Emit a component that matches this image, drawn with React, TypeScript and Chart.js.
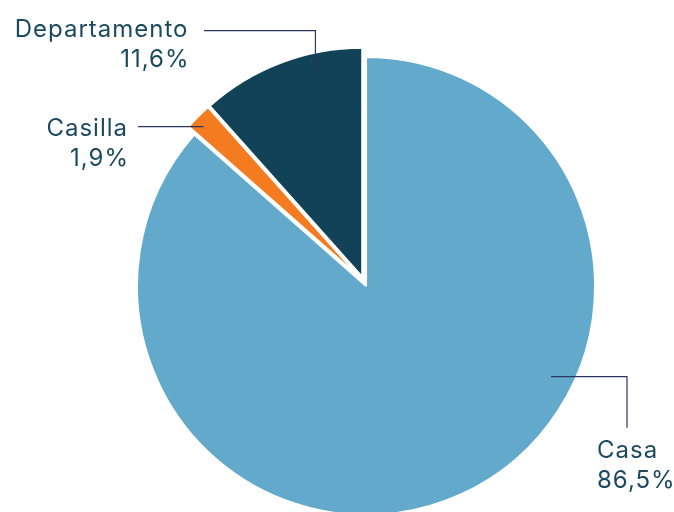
import React, { useEffect, useRef } from "react";
import { Chart, registerables } from "chart.js";

Chart.register(...registerables);

const categories = ["Casa", "Casilla", "Departamento"];
const values = [86.5, 1.9, 11.6];
const valueLabels = ["86,5%", "1,9%", "11,6%"];
const colors = ["#63a9cb", "#f47b20", "#114257"];

const SLICE_SHIFT = 5;
const TEXT_COLOR = "#1b4a5f";
const LINE_COLOR = "#2b365e";
const FONT = "24px Inter, 'Noto Sans', sans-serif";

// leader layout: anchor in polar coords relative to slice centre (angle clockwise from top, deg)
const leaderLayout = [
  { angle: 116.1, r: 206, elbow: [627, 375.7], end: [627, 427.7], text: [597, 457.5], align: "left" },
  { angle: 314, r: 218, elbow: null, end: [138, 125], text: [127, 135.7], align: "right" },
  { angle: 347, r: 208, elbow: [316, 30.7], end: [204, 30.7], text: [187.5, 36.7], align: "right" },
];

const explodePlugin = {
  id: "explode",
  beforeDatasetDraw(chart: any, args: any) {
    const ctx = chart.ctx;
    args.meta.data.forEach((arc: any) => {
      const mid = (arc.startAngle + arc.endAngle) / 2;
      ctx.save();
      ctx.translate(Math.cos(mid) * SLICE_SHIFT, Math.sin(mid) * SLICE_SHIFT);
      arc.draw(ctx);
      ctx.restore();
    });
    return false;
  },
};

const labelPlugin = {
  id: "leaderLabels",
  afterDraw(chart: any) {
    const ctx = chart.ctx;
    const meta = chart.getDatasetMeta(0);
    ctx.save();
    meta.data.forEach((arc: any, i: number) => {
      const mid = (arc.startAngle + arc.endAngle) / 2;
      const cx = arc.x + Math.cos(mid) * SLICE_SHIFT;
      const cy = arc.y + Math.sin(mid) * SLICE_SHIFT;
      const L = leaderLayout[i];
      const a = (L.angle * Math.PI) / 180 - Math.PI / 2;
      const ax = cx + Math.cos(a) * L.r;
      const ay = cy + Math.sin(a) * L.r;
      ctx.strokeStyle = LINE_COLOR;
      ctx.lineWidth = 1.2;
      ctx.beginPath();
      if (L.elbow) {
        if (L.align === "left") {
          ctx.moveTo(ax, ay);
          ctx.lineTo(L.elbow[0], ay);
          ctx.lineTo(L.end[0], L.end[1]);
        } else {
          ctx.moveTo(ax, ay);
          ctx.lineTo(ax, L.elbow[1]);
          ctx.lineTo(L.end[0], L.end[1]);
        }
      } else {
        ctx.moveTo(ax, ay);
        ctx.lineTo(L.end[0], ay);
      }
      ctx.stroke();
      ctx.fillStyle = TEXT_COLOR;
      ctx.font = FONT;
      try {
        (ctx as any).letterSpacing = "1px";
      } catch (e) {}
      ctx.textAlign = L.align as CanvasTextAlign;
      ctx.textBaseline = "alphabetic";
      const sx = L.align === "right" ? 1 : 0;
      ctx.fillText(categories[i], L.text[0] + sx, L.text[1]);
      ctx.fillText(valueLabels[i], L.text[0] + sx + (L.align === "right" ? 1 : 0), L.text[1] + 30);
    });
    ctx.restore();
  },
};

export default function App() {
  const ref = useRef<HTMLCanvasElement>(null);
  useEffect(() => {
    if (!ref.current) return;
    const chart = new Chart(ref.current, {
      type: "pie",
      data: {
        labels: categories,
        datasets: [
          {
            data: values,
            backgroundColor: colors,
            borderColor: "#ffffff",
            borderWidth: 2,
            offset: 0,
          },
        ],
      },
      options: {
        animation: false,
        responsive: false,
        devicePixelRatio: 1,
        radius: 229,
        layout: { padding: { left: 54, right: 0, top: 51, bottom: 0 } },
        plugins: { legend: { display: false }, tooltip: { enabled: false } },
      },
      plugins: [explodePlugin, labelPlugin],
    });
    return () => chart.destroy();
  }, []);
  return (
    <div style={{ position: "fixed", left: 0, top: 0, width: 674, height: 512, background: "#fff" }}>
      <canvas ref={ref} width={674} height={512} />
    </div>
  );
}
